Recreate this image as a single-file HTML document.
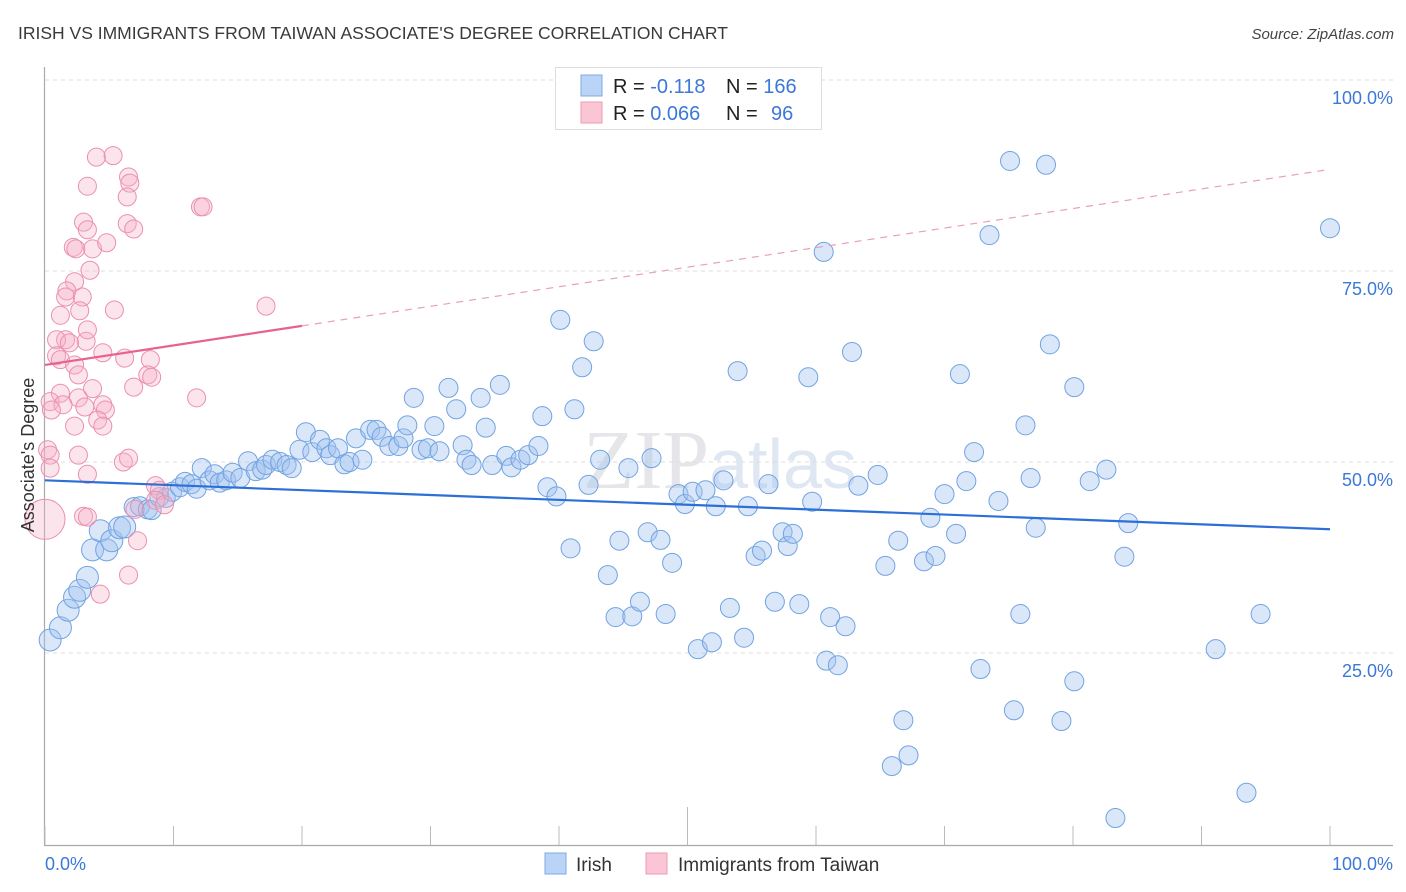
<!DOCTYPE html>
<html><head><meta charset="utf-8"><style>
html,body{margin:0;padding:0;background:#fff;}
body{width:1406px;height:892px;position:relative;overflow:hidden;font-family:"Liberation Sans",sans-serif;}
</style></head><body>
<svg id="chart" width="1406" height="892" xmlns="http://www.w3.org/2000/svg" style="position:absolute;left:0;top:0">
<text x="18" y="39" font-size="17.5" fill="#3a3a3a" font-family="Liberation Sans, sans-serif">IRISH VS IMMIGRANTS FROM TAIWAN ASSOCIATE'S DEGREE CORRELATION CHART</text>
<text x="1394" y="39" font-size="15" fill="#444" font-style="italic" text-anchor="end">Source: ZipAtlas.com</text>
<text x="720" y="488" font-size="84" fill="#e6e6ea" text-anchor="middle" font-family="Liberation Serif, serif">ZIP<tspan font-family="Liberation Sans, sans-serif" font-size="70" fill="#dfe7f3">atlas</tspan></text>
<g id="grid"></g>
<g id="axes"></g>
<g id="pts"></g>
<g id="trend"></g>
<text transform="translate(34,455) rotate(-90)" font-size="18" fill="#333" text-anchor="middle">Associate's Degree</text>
<g>
<rect x="555.5" y="67.5" width="266" height="62" fill="#fff" stroke="#ddd"/>
<rect x="581" y="75" width="21" height="21" fill="#b9d4f7" stroke="#7eaae6"/>
<rect x="581" y="102" width="21" height="21" fill="#fac5d4" stroke="#ee9ab5"/>
<text x="613" y="93" font-size="20" fill="#222">R = <tspan fill="#3c78d8">-0.118</tspan><tspan x="726">N = </tspan><tspan fill="#3c78d8">166</tspan></text>
<text x="613" y="120" font-size="20" fill="#222">R = <tspan fill="#3c78d8">0.066</tspan><tspan x="726">N = </tspan><tspan fill="#3c78d8" x="771">96</tspan></text>
</g>
<g>
<rect x="545" y="853" width="21" height="21" fill="#b9d4f7" stroke="#7eaae6"/>
<text x="576" y="871" font-size="19" fill="#333">Irish</text>
<rect x="646" y="853" width="21" height="21" fill="#fac5d4" stroke="#ee9ab5"/>
<text x="678" y="871" font-size="19" fill="#333">Immigrants from Taiwan</text>
</g>
</svg>
<script>
const irishX=[0.4,1.2,1.8,2.3,2.7,3.3,3.7,4.3,4.8,5.2,5.8,6.2,6.9,7.4,8.0,8.3,8.9,9.4,9.9,10.5,10.9,11.4,11.8,12.2,12.8,13.2,13.6,14.1,14.6,15.2,15.8,16.4,16.9,17.2,17.7,18.3,18.8,19.2,19.8,20.3,20.8,21.4,21.9,22.2,22.8,23.3,23.7,24.2,24.7,25.3,25.8,26.2,26.8,27.5,27.9,28.2,28.7,29.3,29.8,30.3,30.7,31.4,32.0,32.5,32.8,33.2,33.9,34.3,34.8,35.4,35.9,36.3,37.0,37.6,38.4,38.7,39.1,39.8,40.1,40.9,41.2,41.8,42.3,42.7,43.2,43.8,44.4,44.7,45.4,45.7,46.3,46.9,47.2,47.9,48.3,48.8,49.3,49.8,50.4,50.8,51.4,51.9,52.2,52.8,53.3,53.9,54.4,54.7,55.3,55.8,56.3,56.8,57.4,57.8,58.2,58.7,59.4,59.7,60.6,60.8,61.1,61.7,62.3,62.8,63.3,64.8,65.4,65.9,66.4,66.8,67.2,68.4,68.9,69.3,70.0,70.9,71.2,71.7,72.3,72.8,73.5,74.2,75.1,75.4,75.9,76.3,76.7,77.1,77.9,78.2,79.1,80.1,80.1,81.3,82.6,83.3,84.0,84.3,91.1,93.5,94.6,100.0];
const irishY=[26.7,28.3,30.6,32.3,33.2,34.9,38.5,41.0,38.5,39.7,41.4,41.5,44.1,44.2,43.8,43.7,45.4,45.3,46.1,46.7,47.4,47.1,46.5,49.2,47.6,48.4,47.3,47.6,48.6,47.9,50.1,48.8,49.0,49.6,50.3,50.0,49.6,49.2,51.6,53.9,51.3,52.9,51.8,50.9,51.8,49.7,50.0,53.1,50.3,54.2,54.2,53.3,52.1,52.1,53.1,54.8,58.4,51.6,51.8,54.7,51.4,59.7,56.9,52.2,50.3,49.6,58.4,54.5,49.6,60.1,50.8,49.3,50.3,50.9,52.1,56.0,46.7,45.5,68.6,38.7,56.9,62.4,47.0,65.8,50.3,35.2,29.7,39.7,49.2,29.8,31.7,40.8,50.5,39.8,30.1,36.8,45.8,44.5,46.1,25.5,46.3,26.4,44.2,47.6,30.9,61.9,27.0,44.2,37.7,38.4,47.1,31.7,40.8,39.0,40.6,31.4,61.1,44.8,77.5,24.0,29.7,23.4,28.5,64.4,46.9,48.3,36.4,10.2,39.7,16.2,11.6,37.0,42.7,37.7,45.8,40.6,61.5,47.5,51.3,22.9,79.7,44.9,89.4,17.5,30.1,54.8,47.9,41.4,88.9,65.4,16.1,59.8,21.3,47.5,49.0,3.4,37.6,42.0,25.5,6.7,30.1,80.6];
const taiwanX=[4.0,5.3,3.3,6.5,6.6,6.4,12.1,12.3,3.0,3.3,6.4,6.9,2.2,2.4,3.7,4.8,3.5,2.3,1.7,1.6,2.9,1.2,2.7,1.6,3.2,0.9,1.9,0.9,3.3,5.4,17.2,1.2,2.3,2.6,4.5,6.2,8.2,8.0,8.3,6.9,3.7,2.6,1.2,0.4,1.4,0.5,4.5,4.7,3.1,4.1,2.3,4.5,11.8,0.2,0.4,2.6,6.1,6.5,3.3,0.4,8.6,8.9,8.6,9.3,7.0,3.0,3.3,7.2,6.5,4.3];
const taiwanY=[89.9,90.1,86.1,87.3,86.5,84.7,83.4,83.4,81.4,80.4,81.2,80.5,78.1,77.9,77.9,78.7,75.1,73.6,72.4,71.6,71.6,69.2,69.8,66.0,65.8,66.0,65.6,63.9,67.3,69.9,70.4,63.4,62.7,61.4,64.3,63.6,63.4,61.4,61.1,59.8,59.6,58.4,59.0,57.9,57.5,56.8,57.5,56.8,57.2,55.5,54.7,54.7,58.4,51.6,50.9,50.9,50.0,50.5,48.4,49.2,46.9,46.3,45.0,44.4,43.8,42.9,42.8,39.7,35.2,32.7];
const bigTaiwan=[0,42.5];
const irishTrend=[47.6,41.2];
const taiwanTrend=[62.7,88.3];
const yTicks=[25,50,75,100];
const yTickLabels=["25.0%","50.0%","75.0%","100.0%"];
const xTicks=[0,10,20,30,40,50,60,70,80,90,100];

const NS="http://www.w3.org/2000/svg";
const X=v=>45+v*12.85;
const Y=v=>844-v*7.64;
function mk(tag,attrs,parent){const e=document.createElementNS(NS,tag);for(const k in attrs)e.setAttribute(k,attrs[k]);parent.appendChild(e);return e;}
const grid=document.getElementById('grid'),axes=document.getElementById('axes'),pts=document.getElementById('pts'),trend=document.getElementById('trend');
yTicks.forEach((t,i)=>{
  const l=mk('line',{x1:45,x2:1393,y1:Y(t),y2:Y(t),stroke:'#ddd','stroke-dasharray':'4,4'},grid);
  
  
  const tx=mk('text',{x:1393,y:Y(t)+24,'font-size':18,fill:'#3c78d8','text-anchor':'end'},axes);
  tx.textContent=yTickLabels[i];
  
  
});
const ya=mk('line',{x1:44.5,x2:44.5,y1:67,y2:845,stroke:'#aaa','stroke-width':1.2},axes);


const xa=mk('line',{x1:44,x2:1393,y1:845.5,y2:845.5,stroke:'#aaa','stroke-width':1.2},axes);


xTicks.forEach(t=>{
  const tk=mk('line',{x1:X(t),x2:X(t),y1:t===50?807:826,y2:845,stroke:'#bbb'},axes);
  
  
});
const x0=mk('text',{x:45,y:870,'font-size':18,fill:'#3c78d8'},axes);x0.textContent='0.0%';


const x1=mk('text',{x:1393,y:870,'font-size':18,fill:'#3c78d8','text-anchor':'end'},axes);x1.textContent='100.0%';



irishX.forEach((v,i)=>{
  const c=mk('circle',{cx:X(v),cy:Y(irishY[i]),r:i<12?11:9.5,fill:'rgba(160,196,240,0.4)',stroke:'#72a3e2','stroke-width':1},pts);
  
  
});
taiwanX.forEach((v,i)=>{
  const c=mk('circle',{cx:X(v),cy:Y(taiwanY[i]),r:9,fill:'rgba(246,178,200,0.35)',stroke:'#eb90ad','stroke-width':1},pts);
  
  
});
const bg=mk('circle',{cx:X(bigTaiwan[0]),cy:Y(bigTaiwan[1]),r:20,fill:'rgba(246,178,200,0.35)',stroke:'#eb90ad','stroke-width':1},pts);



const it=mk('line',{x1:X(0),y1:Y(irishTrend[0]),x2:X(100),y2:Y(irishTrend[1]),stroke:'#2c6fd6','stroke-width':2.2},trend);


const tAt=v=>taiwanTrend[0]+(taiwanTrend[1]-taiwanTrend[0])*v/100;
const ts=mk('line',{x1:X(0),y1:Y(tAt(0)),x2:X(20),y2:Y(tAt(20)),stroke:'#e8628e','stroke-width':2.2},trend);


const td=mk('line',{x1:X(20),y1:Y(tAt(20)),x2:X(100),y2:Y(tAt(100)),stroke:'#e8a0b8','stroke-width':1.2,'stroke-dasharray':'7,6'},trend);


</script>
</body></html>
